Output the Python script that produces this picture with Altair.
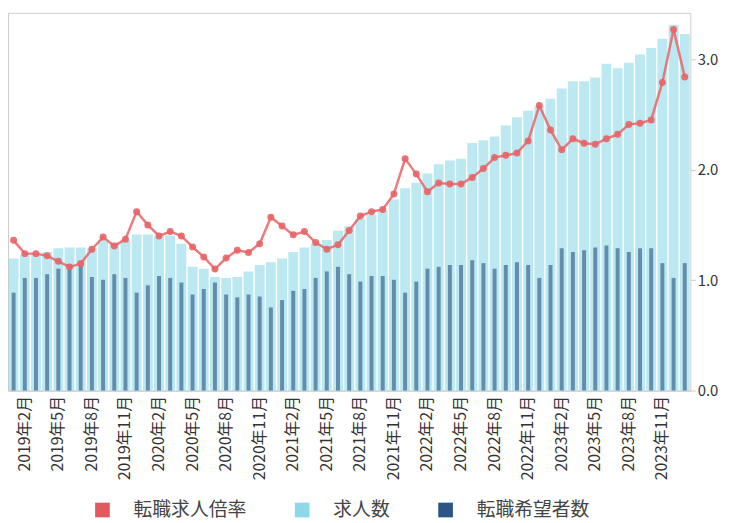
import altair as alt
import pandas as pd

# 2019年1月 .. 2024年1月 (61 months)
months = [f"{y}年{m}月" for y in range(2019, 2025) for m in range(1, 13)][:61]
label_months = months[1::3][:20]  # 2019年2月 ... 2023年11月

series_names = ["転職求人倍率", "求人数", "転職希望者数"]
legend_colors = ["#E05A5E", "#8DD8E8", "#2B5583"]

# 求人数 (index, left axis)
jobs = [143, 147, 147, 150, 154, 155, 155, 154, 163, 160, 163, 169, 169, 167, 168, 159,
        134, 132, 123, 122, 123, 129, 136, 139, 143, 150, 155, 159, 163, 173, 178, 186,
        190, 195, 207, 219, 225, 235, 245, 249, 251, 268, 271, 275, 287, 296, 303, 308,
        316, 327, 335, 335, 339, 354, 349, 355, 364, 371, 381, 396, 386]

# 転職希望者数 (index, left axis)
seekers = [106, 122, 122, 126, 132, 137, 136, 123, 120, 126, 122, 106, 114, 124, 122, 117,
           104, 110, 117, 104, 101, 104, 102, 90, 98, 108, 110, 122, 129, 134, 126, 118,
           124, 124, 120, 106, 118, 132, 134, 136, 136, 141, 138, 132, 136, 139, 136, 122,
           136, 154, 150, 152, 155, 157, 154, 150, 154, 154, 138, 122, 138]

# 転職求人倍率 (right axis)
rate = [1.36, 1.24, 1.24, 1.22, 1.17, 1.12, 1.15, 1.28, 1.39, 1.31, 1.37, 1.62, 1.50, 1.40,
        1.44, 1.40, 1.30, 1.21, 1.10, 1.20, 1.27, 1.25, 1.33, 1.57, 1.49, 1.41, 1.44, 1.34,
        1.28, 1.32, 1.45, 1.58, 1.62, 1.64, 1.78, 2.10, 1.96, 1.80, 1.88, 1.87, 1.87, 1.93,
        2.01, 2.11, 2.13, 2.15, 2.26, 2.58, 2.36, 2.18, 2.28, 2.24, 2.23, 2.28, 2.32, 2.41,
        2.42, 2.45, 2.79, 3.27, 2.84]

df_jobs = pd.DataFrame({"month": months, "value": jobs, "series": "求人数"})
df_seek = pd.DataFrame({"month": months, "value": seekers, "series": "転職希望者数"})
df_rate = pd.DataFrame({"month": months, "rate": rate})

FONT = "Noto Sans CJK JP"

x_enc = alt.X(
    "month:N",
    sort=months,
    scale=alt.Scale(paddingInner=0.12, paddingOuter=0.06),
    axis=alt.Axis(
        values=label_months,
        labelAngle=-90,
        ticks=False,
        title=None,
        labelFontSize=16,
        labelColor="#333333",
        labelPadding=5,
        domainColor="#cccccc",
    ),
)

color_enc = alt.Color(
    "series:N",
    scale=alt.Scale(domain=series_names, range=legend_colors),
    legend=alt.Legend(
        title=None,
        orient="none",
        legendX=86,
        legendY=493,
        direction="horizontal",
        symbolType="square",
        symbolSize=220,
        symbolStrokeWidth=0,
        symbolOpacity=1,
        labelFontSize=19,
        labelColor="#444444",
        labelOffset=22,
        columnPadding=46,
    ),
)

y_left = alt.Scale(domain=[0, 409])

light = alt.Chart(df_jobs).mark_bar(opacity=0.6).encode(
    x=x_enc,
    y=alt.Y("value:Q", scale=y_left, axis=None),
    color=color_enc,
)
dark = alt.Chart(df_seek).mark_bar(size=4, opacity=0.62).encode(
    x=x_enc,
    y=alt.Y("value:Q", scale=y_left, axis=None),
    color=color_enc,
)
bars = alt.layer(light, dark)

y_right = alt.Y(
    "rate:Q",
    scale=alt.Scale(domain=[0, 3.42]),
    axis=alt.Axis(
        orient="right",
        values=[0, 1, 2, 3],
        format=".1f",
        grid=False,
        domain=False,
        tickColor="#cccccc",
        tickSize=5,
        labelFontSize=15,
        labelColor="#333333",
        labelPadding=2,
        title=None,
    ),
)

line = alt.Chart(df_rate).mark_line(strokeWidth=2.5, opacity=0.85).encode(
    x=x_enc, y=y_right, color=alt.value("#E86466")
)
pts = alt.Chart(df_rate).mark_point(filled=True, size=50, opacity=0.9).encode(
    x=x_enc, y=y_right, color=alt.value("#E86466")
)

chart = (
    alt.layer(bars, alt.layer(line, pts))
    .resolve_scale(y="independent")
    .properties(
        width=690,
        height=382,
        autosize=alt.AutoSizeParams(type="none"),
        padding={"left": 0, "top": 2, "right": 31, "bottom": 130},
    )
    .configure(font=FONT)
    .configure_view(stroke="#cccccc", strokeWidth=1)
)

chart.save("out.html", embed_options={"renderer": "svg", "actions": False})
